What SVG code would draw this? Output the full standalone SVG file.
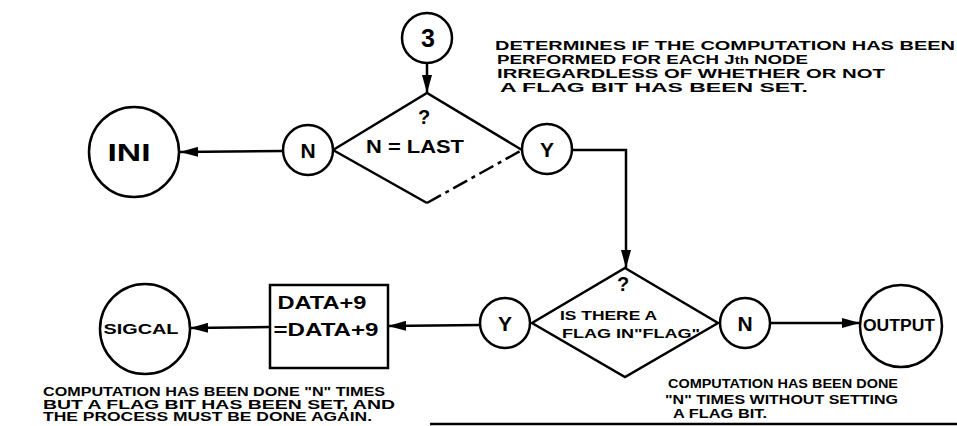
<svg xmlns="http://www.w3.org/2000/svg" width="957" height="426" viewBox="0 0 957 426">
  <style>
    .shape { fill: #ffffff; stroke: #000000; stroke-width: 2.5; }
    .wire { fill: none; stroke: #000000; stroke-width: 2.5; }
    .lbl { font-family: "Liberation Sans", Arial, sans-serif; font-weight: bold; fill: #000000; text-anchor: middle; }
    .note { font-family: "Liberation Sans", Arial, sans-serif; font-weight: bold; font-size: 12.5px; fill: #000000; }
  </style>
  <defs>
    <marker id="arrow" markerUnits="userSpaceOnUse" markerWidth="18" markerHeight="10" viewBox="0 0 18 10" refX="18" refY="5" orient="auto">
      <path d="M0,0 L18,5 L0,10 z" fill="#000000"/>
    </marker>
  </defs>
  <rect width="957" height="426" fill="#ffffff"/>

  <!-- connectors -->
  <g id="connectors">
    <line class="wire" x1="427" y1="63" x2="427" y2="93" marker-end="url(#arrow)"/>
    <line class="wire" x1="284" y1="151" x2="180" y2="152" marker-end="url(#arrow)"/>
    <polyline class="wire" points="572,150 626,150 626,268" marker-end="url(#arrow)"/>
    <line class="wire" x1="770" y1="323" x2="860" y2="323" marker-end="url(#arrow)"/>
    <line class="wire" x1="480" y1="325" x2="388" y2="326" marker-end="url(#arrow)"/>
    <line class="wire" x1="270" y1="327" x2="190" y2="328" marker-end="url(#arrow)"/>
  </g>

  <!-- connector 3 -->
  <g id="node-3">
    <circle class="shape" cx="427" cy="38" r="25"/>
    <text class="lbl" x="428" y="47" font-size="25">3</text>
  </g>

  <!-- decision: N = LAST -->
  <g id="decision-last">
    <path class="wire" d="M333,150 L427,93 L522,150"/>
    <path class="wire" d="M333,150 L427,203"/>
    <path class="wire" d="M427,203 L522,150" stroke-dasharray="16 5 4 5"/>
    <text class="lbl" x="424" y="124" font-size="20">?</text>
    <text class="lbl" x="415" y="153" font-size="18" textLength="98" lengthAdjust="spacingAndGlyphs">N = LAST</text>
  </g>

  <g id="node-n1">
    <circle class="shape" cx="308" cy="150" r="25"/>
    <text class="lbl" x="308" y="158" font-size="21">N</text>
  </g>

  <g id="node-y1">
    <circle class="shape" cx="547" cy="149" r="25"/>
    <text class="lbl" x="547" y="157" font-size="21">Y</text>
  </g>

  <g id="node-ini">
    <circle class="shape" cx="134" cy="152" r="45"/>
    <text class="lbl" x="129" y="161" font-size="23" textLength="43" lengthAdjust="spacingAndGlyphs">INI</text>
  </g>

  <!-- decision: flag set? -->
  <g id="decision-flag">
    <path class="shape" d="M625,268 L718,323 L625,377 L532,323 z"/>
    <text class="lbl" x="623" y="291" font-size="20">?</text>
    <text class="note" x="560" y="320" font-size="13" textLength="97" lengthAdjust="spacingAndGlyphs">IS THERE A</text>
    <text class="note" x="562" y="338" font-size="13" textLength="138" lengthAdjust="spacingAndGlyphs">FLAG IN"FLAG"</text>
  </g>

  <g id="node-y2">
    <circle class="shape" cx="505" cy="323" r="25"/>
    <text class="lbl" x="505" y="331" font-size="21">Y</text>
  </g>

  <g id="node-n2">
    <circle class="shape" cx="745" cy="323" r="25"/>
    <text class="lbl" x="745" y="331" font-size="21">N</text>
  </g>

  <g id="node-output">
    <circle class="shape" cx="901" cy="326" r="41"/>
    <text class="lbl" x="899" y="331" font-size="16" textLength="72" lengthAdjust="spacingAndGlyphs">OUTPUT</text>
  </g>

  <g id="node-data">
    <rect class="shape" x="270" y="285" width="118" height="83"/>
    <text class="lbl" x="322" y="309" font-size="18" textLength="89" lengthAdjust="spacingAndGlyphs">DATA+9</text>
    <text class="lbl" x="326" y="336" font-size="18" textLength="105" lengthAdjust="spacingAndGlyphs">=DATA+9</text>
  </g>

  <g id="node-sigcal">
    <circle class="shape" cx="145" cy="329" r="45"/>
    <text class="lbl" x="141" y="334" font-size="15" textLength="75" lengthAdjust="spacingAndGlyphs">SIGCAL</text>
  </g>

  <!-- annotations -->
  <g id="note-last">
    <text class="note" x="495" y="50" textLength="460" lengthAdjust="spacingAndGlyphs">DETERMINES IF THE COMPUTATION HAS BEEN</text>
    <text class="note" x="497" y="64" textLength="311" lengthAdjust="spacingAndGlyphs">PERFORMED FOR EACH J<tspan font-size="10">th</tspan> NODE</text>
    <text class="note" x="497" y="78" textLength="388" lengthAdjust="spacingAndGlyphs">IRREGARDLESS OF WHETHER OR NOT</text>
    <text class="note" x="500" y="92" textLength="308" lengthAdjust="spacingAndGlyphs">A FLAG BIT HAS BEEN SET.</text>
  </g>

  <g id="note-sigcal">
    <text class="note" x="43" y="396" font-size="10.5" textLength="342" lengthAdjust="spacingAndGlyphs">COMPUTATION HAS BEEN DONE "N" TIMES</text>
    <text class="note" x="43" y="408.5" font-size="10.5" textLength="352" lengthAdjust="spacingAndGlyphs">BUT A FLAG BIT HAS BEEN SET, AND</text>
    <text class="note" x="43" y="421" font-size="10.5" textLength="329" lengthAdjust="spacingAndGlyphs">THE PROCESS MUST BE DONE AGAIN.</text>
  </g>

  <g id="note-output">
    <text class="note" x="668" y="388" font-size="13" textLength="230" lengthAdjust="spacingAndGlyphs">COMPUTATION HAS BEEN DONE</text>
    <text class="note" x="665" y="404" font-size="13" textLength="233" lengthAdjust="spacingAndGlyphs">"N" TIMES WITHOUT SETTING</text>
    <text class="note" x="673" y="418" font-size="13" textLength="94" lengthAdjust="spacingAndGlyphs">A FLAG BIT.</text>
  </g>

  <line x1="430" y1="424" x2="957" y2="424" stroke="#000000" stroke-width="2.5"/>
</svg>
